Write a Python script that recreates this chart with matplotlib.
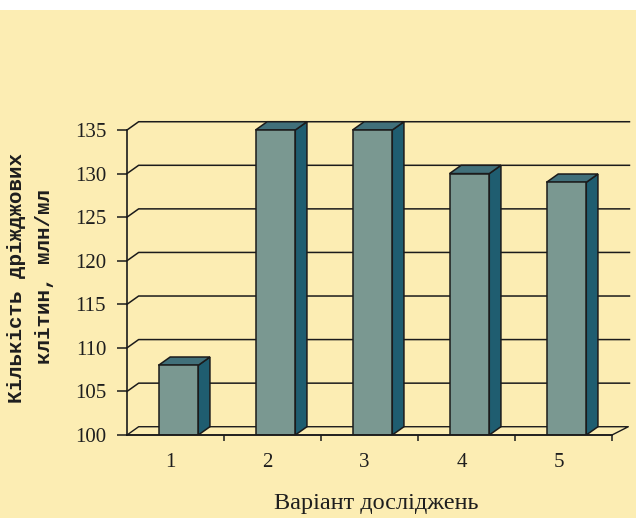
import matplotlib
matplotlib.use('Agg')
import matplotlib.pyplot as plt
from matplotlib.patches import Polygon, Rectangle

# Yeast cell counts per experiment variant
variants = ['1', '2', '3', '4', '5']
counts = [108, 135, 135, 130, 129]
y_ticks = [100, 105, 110, 115, 120, 125, 130, 135]

bg = '#fcedb3'
front_col = '#7a9891'
side_col = '#1f5d70'
top_col = '#41707a'
edge = '#1b1b1b'
txt = '#1e1e1e'

plt.rcParams['font.family'] = ['Liberation Serif', 'DejaVu Serif']

fig = plt.figure(figsize=(6.36, 5.18), dpi=100, facecolor=bg)
# white strip along the top edge
fig.patches.append(Rectangle((0, 1 - 10 / 518), 1, 10 / 518, transform=fig.transFigure,
                             facecolor='white', edgecolor='none', zorder=0))

ax = fig.add_axes([127 / 636, 83 / 518, 485 / 636, 325 / 518])
ax.set_facecolor('none')
ymin = 100
ymax = 100 + 325 / 8.714
ax.set_xlim(-0.5, 4.5)
ax.set_ylim(ymin, ymax)

dx = 0.12   # depth offset in category units
dy = 0.95   # depth offset in value units

# back wall gridlines with their diagonal lead-ins
for v in y_ticks[1:]:
    ax.plot([-0.5, -0.5 + dx, 4.68], [v, v + dy, v + dy], color=edge, lw=1.1,
            zorder=1, clip_on=False)

# floor
ax.plot([-0.5, -0.5 + dx, 4.5 + 1.4 * dx, 4.5, -0.5],
        [100, 100 + dy, 100 + dy, 100, 100], color=edge, lw=1.0, zorder=1, clip_on=False)

# bars
w = 0.41
for i, v in enumerate(counts):
    x0 = i + 0.03 - w / 2
    x1 = x0 + w
    side = Polygon([(x1, 100), (x1, v), (x1 + dx, v + dy), (x1 + dx, 100 + dy)],
                   closed=True, facecolor=side_col, edgecolor=edge, lw=1.1, zorder=3)
    top = Polygon([(x0, v), (x1, v), (x1 + dx, v + dy), (x0 + dx, v + dy)],
                  closed=True, facecolor=top_col, edgecolor=edge, lw=1.1, zorder=3)
    ax.add_patch(side)
    ax.add_patch(top)
    ax.bar(x0, v - 100, width=w, bottom=100, align='edge', color=front_col,
           edgecolor=edge, linewidth=1.1, zorder=4)

for s in ['top', 'right']:
    ax.spines[s].set_visible(False)
ax.spines['left'].set_bounds(100, 135)
for s in ['left', 'bottom']:
    ax.spines[s].set_color(edge)
    ax.spines[s].set_linewidth(1.2)
    ax.spines[s].set_zorder(5)

ax.set_yticks(y_ticks)
ax.set_yticklabels([str(t) for t in y_ticks], fontsize=15)
ax.tick_params(axis='y', length=7, width=1.1, color=edge, pad=8, labelcolor=txt)

ax.set_xticks([i - 0.05 for i in range(5)])
ax.set_xticklabels(variants, fontsize=15, color=txt)
ax.tick_params(axis='x', length=0, pad=13)
ax.set_xticks([0.5, 1.5, 2.5, 3.5, 4.5], minor=True)
ax.tick_params(axis='x', which='minor', length=4, width=1.1, color=edge)

fig.text(376 / 636, 1 - 503 / 518, 'Варіант досліджень', fontsize=17.5,
         ha='center', va='center', color=txt)
fig.text(17 / 636, 1 - 278 / 518, 'Кількість дріжджових', fontsize=15, weight='bold',
         family='Liberation Mono', rotation=90, ha='center', va='center', color=txt)
fig.text(45 / 636, 1 - 277 / 518, 'клітин, млн/мл', fontsize=15, weight='bold',
         family='Liberation Mono', rotation=90, ha='center', va='center', color=txt)

fig.savefig('out.png', dpi=100, facecolor=bg)
